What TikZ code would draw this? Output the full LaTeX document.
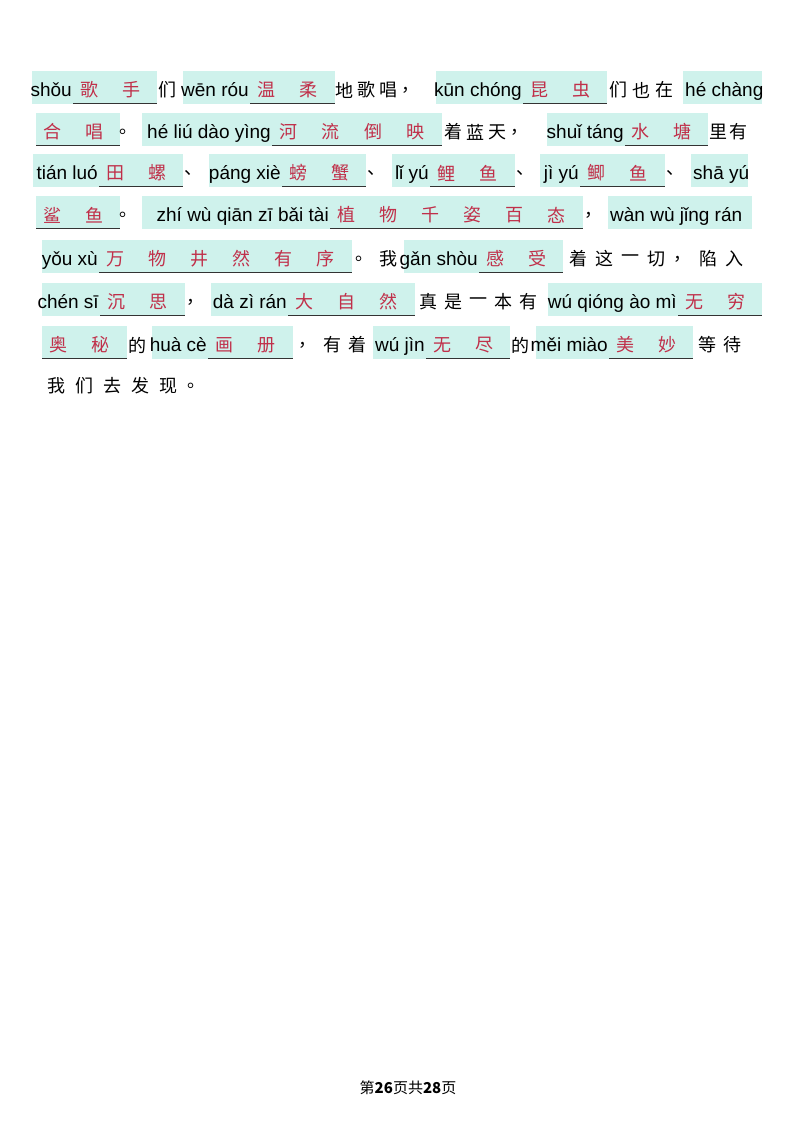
\documentclass[tikz,border=0pt]{standalone}
\usepackage{fontspec}
\setmainfont{Liberation Sans}
\newfontfamily\cjk{Noto Sans CJK SC}
\definecolor{hl}{HTML}{CFF2EC}
\definecolor{ansred}{HTML}{C0304A}
\tikzset{x=1pt,y=-1pt,
 py/.style={font=\fontsize{19}{19}\selectfont,inner sep=0pt},
 ans/.style={font=\cjk\fontsize{18}{18}\selectfont,text=ansred,inner sep=0pt},
 blk/.style={font=\cjk\fontsize{18}{18}\selectfont,inner sep=0pt},
 hlbox/.style={fill=hl,draw=none},
 uline/.style={draw=black!80,line width=0.7pt}}
% box: y, x1, xu, x2, pinyin, n, chars
\newcommand\blank[7]{%
 \fill[hlbox] (#2,#1-19) rectangle (#4,#1+14);
 \node[py,anchor=base east] at (#3-1,#1+6) {#5};
 \draw[uline] (#3,#1+13) -- (#4,#1+13);
 \foreach \c [count=\i] in {#7} \node[ans] at ({#3+(\i-0.5)*(#4-#3)/#6-5},#1) {\c};}
\newcommand\pyonly[4]{%
 \fill[hlbox] (#2,#1-19) rectangle (#3,#1+14);
 \node[py,anchor=base west] at (#2+2,#1+6) {#4};}
% black: y, x, step, chars
\newcommand\blk[4]{\foreach \c [count=\i] in {#4} \node[blk] at ({#2+(\i-0.5)*#3},#1) {\c};}
\begin{document}
\begin{tikzpicture}
\useasboundingbox (0,0) rectangle (800,1132);
% line 1
\blank{90}{32}{73}{157}{shǒu}{2}{歌,手}
\blk{90}{157}{20}{们}
\blank{90}{183}{250}{335}{wēn róu}{2}{温,柔}
\blk{90}{333}{22}{地,歌,唱,，}
\blank{90}{436}{523}{607}{kūn chóng}{2}{昆,虫}
\blk{90}{607}{23}{们,也,在}
\pyonly{90}{683}{762}{hé chàng}
% line 2
\blank{132}{36}{36}{120}{}{2}{合,唱}
\blk{132}{119}{18}{。}
\blank{132}{142}{272}{442}{hé liú dào yìng}{4}{河,流,倒,映}
\blk{132}{442}{22}{着,蓝,天,，}
\blank{132}{547}{625}{708}{shuǐ táng}{2}{水,塘}
\blk{132}{708}{20}{里,有}
% line 3
\blank{173}{33}{99}{183}{tián luó}{2}{田,螺}
\blk{173}{183}{20}{、}
\blank{173}{209}{282}{366}{páng xiè}{2}{螃,蟹}
\blk{173}{366}{20}{、}
\blank{173}{392}{430}{515}{lǐ yú}{2}{鲤,鱼}
\blk{173}{515}{20}{、}
\blank{173}{540}{580}{665}{jì yú}{2}{鲫,鱼}
\blk{173}{665}{20}{、}
\pyonly{173}{691}{748}{shā yú}
% line 4
\blank{215}{36}{36}{120}{}{2}{鲨,鱼}
\blk{215}{119}{18}{。}
\blank{215}{142}{330}{583}{zhí wù qiān zī bǎi tài}{6}{植,物,千,姿,百,态}
\blk{215}{583}{20}{，}
\pyonly{215}{608}{752}{wàn wù jǐng rán}
% line 5
\blank{259}{42}{99}{352}{yǒu xù}{6}{万,物,井,然,有,序}
\blk{259}{352}{24}{。,我}
\blank{259}{404}{479}{563}{gǎn shòu}{2}{感,受}
\blk{259}{565}{26}{着,这,一,切,，,陷,入}
% line 6
\blank{302}{42}{100}{185}{chén sī}{2}{沉,思}
\blk{302}{185}{20}{，}
\blank{302}{211}{288}{415}{dà zì rán}{3}{大,自,然}
\blk{302}{416}{25}{真,是,一,本,有}
\blank{302}{548}{678}{762}{wú qióng ào mì}{2}{无,穷}
% line 7
\blank{345}{42}{42}{127}{}{2}{奥,秘}
\blk{345}{128}{19}{的}
\blank{345}{152}{208}{293}{huà cè}{2}{画,册}
\blk{345}{295}{25}{，,有,着}
\blank{345}{373}{426}{510}{wú jìn}{2}{无,尽}
\blk{345}{511}{19}{的}
\blank{345}{536}{609}{693}{měi miào}{2}{美,妙}
\blk{345}{695}{25}{等,待}
% line 8
\blk{386}{42}{28}{我,们,去,发,现,。}
% footer
\node[font=\cjk\fontsize{15}{15}\selectfont] (foot) at (408,1088) {第\textbf{26}页共\textbf{28}页};
\end{tikzpicture}
\end{document}
